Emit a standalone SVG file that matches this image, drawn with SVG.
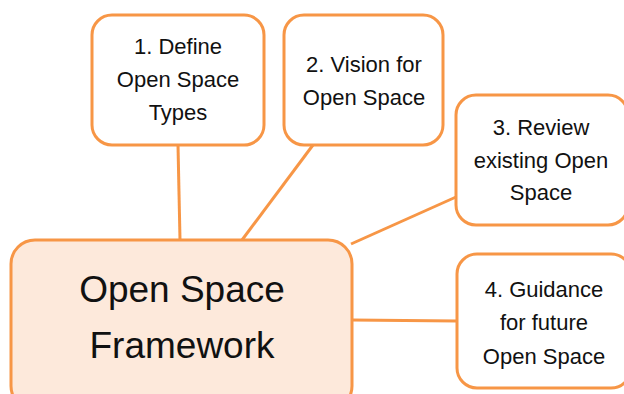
<svg xmlns="http://www.w3.org/2000/svg" width="624" height="394" viewBox="0 0 624 394">
<style>
.box{fill:#ffffff;stroke:#F79646;stroke-width:3}
.main{fill:#FDE9DB;stroke:#F79646;stroke-width:3}
.t{font-family:"Liberation Sans",Arial,sans-serif;font-size:22px;fill:#111;text-anchor:middle}
.tm{font-family:"Liberation Sans",Arial,sans-serif;font-size:37px;fill:#111;text-anchor:middle}
.c{stroke:#F79646;stroke-width:3;fill:none}
</style>
<rect width="624" height="394" fill="#ffffff"/>
<g id="connectors">
<line class="c" x1="178" y1="145" x2="180" y2="240"/>
<line class="c" x1="313" y1="145" x2="242" y2="240"/>
<line class="c" x1="456" y1="197" x2="351" y2="244"/>
<line class="c" x1="352" y1="320" x2="457" y2="321"/>
</g>
<g id="main">
<rect class="main" x="11" y="240" width="341" height="170" rx="24"/>
<text class="tm" x="182" y="302">Open Space</text>
<text class="tm" x="182" y="358">Framework</text>
</g>
<g id="n1">
<rect class="box" x="92" y="15" width="172" height="130" rx="20"/>
<text class="t" x="178" y="54">1. Define</text>
<text class="t" x="178" y="87">Open Space</text>
<text class="t" x="178" y="120">Types</text>
</g>
<g id="n2">
<rect class="box" x="284" y="15" width="159" height="130" rx="20"/>
<text class="t" x="364" y="72">2. Vision for</text>
<text class="t" x="364" y="105">Open Space</text>
</g>
<g id="n3">
<rect class="box" x="456" y="95" width="172" height="130" rx="20"/>
<text class="t" x="541" y="135">3. Review</text>
<text class="t" x="541" y="168">existing Open</text>
<text class="t" x="541" y="200">Space</text>
</g>
<g id="n4">
<rect class="box" x="457" y="254" width="174" height="134" rx="20"/>
<text class="t" x="544" y="297">4. Guidance</text>
<text class="t" x="544" y="330">for future</text>
<text class="t" x="544" y="364">Open Space</text>
</g>
</svg>
